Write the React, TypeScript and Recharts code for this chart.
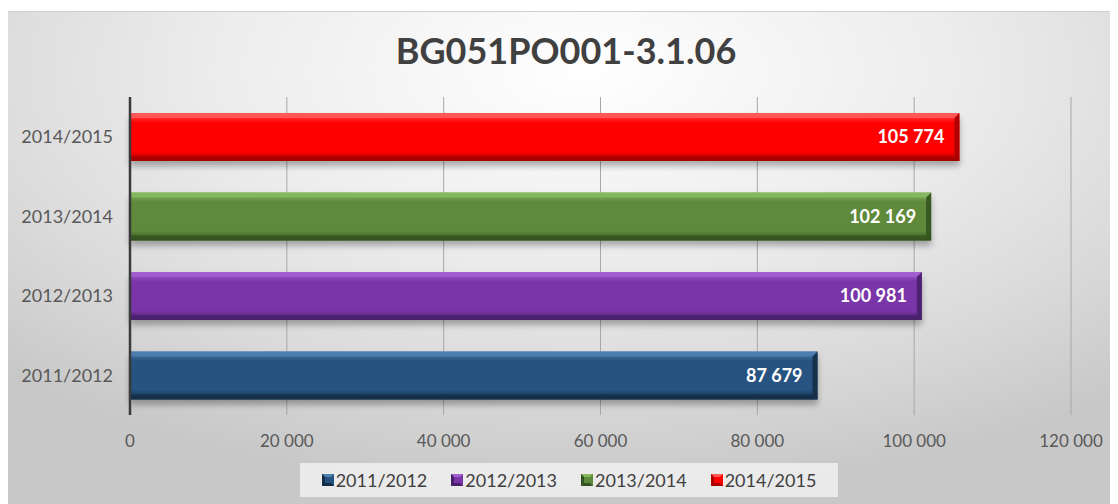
import React from 'react';
import { BarChart, Bar, XAxis, YAxis, CartesianGrid, Legend, LabelList, Cell } from 'recharts';

const categories = ['2011/2012', '2012/2013', '2013/2014', '2014/2015'];
const values = [87679, 100981, 102169, 105774];
const colors = ['#26527f', '#7a36a8', '#5e8a3b', '#ff0000'];
const lightColors = ['#4f7fb0', '#a35fd0', '#86b860', '#ff5a5a'];
const darkColors = ['#142d47', '#48206a', '#34521f', '#a80000'];
const xTicks = [0, 20000, 40000, 60000, 80000, 100000, 120000];
const title = 'BG051PO001-3.1.06';

const data = categories.map((c, i) => ({ name: c, value: values[i] }));

const fmt = (v: number) => {
  const s = String(Math.round(v));
  return s.replace(/\B(?=(\d{3})+(?!\d))/g, '\u00a0');
};

const FONT = 'Lato, "Open Sans", sans-serif';

const BevelBar = (props: any) => {
  const { x, y, width, height, index } = props;
  if (width <= 0) return null;
  const b = 5;
  return (
    <g filter="url(#barShadow)">
      <rect x={x} y={y} width={width} height={height} fill={`url(#grad${index})`} />
      <polygon
        points={`${x},${y} ${x + width},${y} ${x + width - b},${y + b} ${x},${y + b}`}
        fill={lightColors[index]}
        opacity={0.85}
      />
      <polygon
        points={`${x},${y + height} ${x + width},${y + height} ${x + width - b},${y + height - b} ${x},${y + height - b}`}
        fill={darkColors[index]}
        opacity={0.8}
      />
      <polygon
        points={`${x + width - b},${y + b} ${x + width},${y} ${x + width},${y + height} ${x + width - b},${y + height - b}`}
        fill={darkColors[index]}
        opacity={0.9}
      />
    </g>
  );
};

const LegendContent = () => (
  <div
    style={{
      height: 34,
      background: 'rgba(245,245,245,0.75)',
      display: 'flex',
      alignItems: 'center',
      justifyContent: 'center',
      gap: 24,
      fontFamily: FONT,
      fontSize: 18,
      color: '#404040',
    }}
  >
    {categories.map((c, i) => (
      <div key={c} style={{ display: 'flex', alignItems: 'center' }}>
        <svg width={12} height={12} style={{ marginRight: 2 }}>
          <rect x={0} y={0} width={12} height={12} fill={colors[i]} />
          <polygon points="0,0 12,0 9,3 3,3" fill={lightColors[i]} />
          <polygon points="0,12 12,12 9,9 3,9" fill={darkColors[i]} />
          <polygon points="0,0 3,3 3,9 0,12" fill={darkColors[i]} />
        </svg>
        <span>{c}</span>
      </div>
    ))}
  </div>
);

export default function App() {
  return (
    <div style={{ position: 'relative', width: 1110, height: 496 }}>
      <div
        style={{
          position: 'absolute',
          left: -1,
          top: 3,
          width: 1111,
          height: 493,
          background:
            'radial-gradient(ellipse 75% 85% at 52% 12%, #ffffff 0%, #ececec 45%, #dadada 75%, #c8c8c8 100%)',
          borderTop: '1px solid #d0d0d0',
          boxSizing: 'border-box',
        }}
      />
      <div
        style={{
          position: 'absolute',
          left: 0,
          top: 21,
          width: 1116,
          textAlign: 'center',
          fontFamily: FONT,
          fontWeight: 700,
          fontSize: 36,
          color: '#404040',
          lineHeight: '42px',
        }}
      >
        {title}
      </div>
      <div style={{ position: 'absolute', left: 0, top: 0 }}>
        <BarChart
          width={1110}
          height={496}
          data={data}
          layout="vertical"
          margin={{ top: 89, right: 47, bottom: 7, left: 0 }}
          barSize={48}
        >
          <defs>
            {colors.map((c, i) => (
              <linearGradient key={i} id={`grad${i}`} x1="0" y1="0" x2="0" y2="1">
                <stop offset="0%" stopColor={lightColors[i]} />
                <stop offset="20%" stopColor={c} />
                <stop offset="80%" stopColor={c} />
                <stop offset="100%" stopColor={darkColors[i]} />
              </linearGradient>
            ))}
            <filter id="barShadow" x="-5%" y="-20%" width="110%" height="160%">
              <feDropShadow dx="0" dy="5" stdDeviation="3" floodColor="#000" floodOpacity="0.3" />
            </filter>
          </defs>
          <CartesianGrid horizontal={false} stroke="#a8a8a8" />
          <XAxis
            type="number"
            domain={[0, 120000]}
            ticks={xTicks}
            tickFormatter={fmt}
            axisLine={false}
            tickLine={false}
            height={48}
            tickMargin={14}
            tick={{ fill: '#595959', fontSize: 17, fontFamily: FONT }}
          />
          <YAxis
            type="category"
            dataKey="name"
            reversed
            width={122}
            axisLine={{ stroke: '#3a3a3a', strokeWidth: 2.5 }}
            tickLine={false}
            tickMargin={11}
            tick={{ fill: '#595959', fontSize: 18, fontFamily: FONT }}
          />
          <Legend
            verticalAlign="bottom"
            content={LegendContent}
            wrapperStyle={{ left: 292, width: 538, height: 34 }}
          />
          <Bar dataKey="value" isAnimationActive={false} shape={BevelBar}>
            {data.map((d, i) => (
              <Cell key={d.name} fill={colors[i]} />
            ))}
            <LabelList
              dataKey="value"
              position="insideRight"
              offset={15}
              formatter={(v: any) => fmt(Number(v))}
              fill="#ffffff"
              style={{ fontWeight: 700, fontSize: 18, fontFamily: FONT }}
            />
          </Bar>
        </BarChart>
      </div>
    </div>
  );
}
